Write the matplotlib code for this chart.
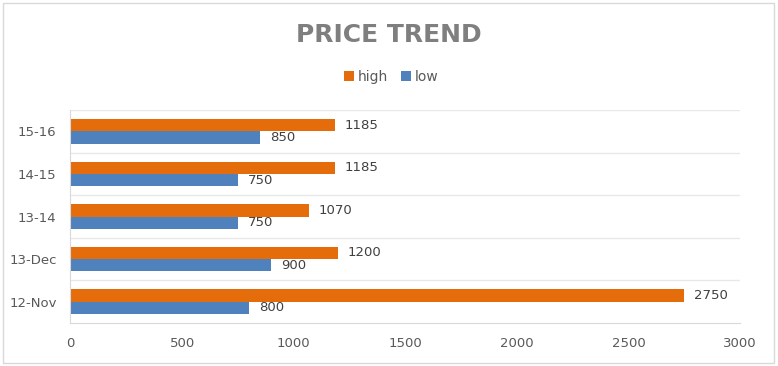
import matplotlib.pyplot as plt
import numpy as np
from matplotlib.patches import Rectangle

# Data
categories = ["12-Nov", "13-Dec", "13-14", "14-15", "15-16"]
high = [2750, 1200, 1070, 1185, 1185]
low = [800, 900, 750, 750, 850]
x_ticks = [0, 500, 1000, 1500, 2000, 2500, 3000]

ORANGE = "#E46C0A"
BLUE = "#4F81BD"
TEXT = "#595959"
GRID = "#E8E8E8"

fig = plt.figure(figsize=(7.78, 3.66), dpi=100)
ax = fig.add_axes([0.0906, 0.1175, 0.8605, 0.5815])

y = np.arange(len(categories))
h = 0.29
bars_high = ax.barh(y + h / 2, high, height=h, color=ORANGE, label="high")
bars_low = ax.barh(y - h / 2, low, height=h, color=BLUE, label="low")

# Data labels
for bars in (bars_high, bars_low):
    for b in bars:
        ax.annotate(f"{int(b.get_width())}",
                    xy=(b.get_width(), b.get_y() + b.get_height() / 2),
                    xytext=(7, 0), textcoords="offset points",
                    va="center", ha="left", fontsize=9.5, color="#404040")

ax.set_xlim(0, 3000)
ax.set_ylim(-0.5, len(categories) - 0.5)
ax.set_xticks(x_ticks)
ax.set_yticks(y)
ax.set_yticklabels(categories)
ax.tick_params(axis="both", length=0, labelsize=9.5, labelcolor=TEXT)
ax.tick_params(axis="y", pad=10)
ax.tick_params(axis="x", pad=10)

# gridlines between categories
for g in np.arange(-0.5, len(categories), 1.0)[1:]:
    ax.axhline(g, color=GRID, linewidth=1, zorder=0)

for s in ("top", "right"):
    ax.spines[s].set_visible(False)
ax.spines["left"].set_color("#D9D9D9")
ax.spines["bottom"].set_color("#D9D9D9")

fig.text(0.5, 0.905, "PRICE TREND", ha="center", va="center",
         fontsize=18, fontweight="bold", color="#7F7F7F")

fig.legend(handles=[bars_high, bars_low], labels=["high", "low"],
           loc="center", bbox_to_anchor=(0.503, 0.79), ncol=2, frameon=False,
           fontsize=10, labelcolor=TEXT, handlelength=0.7, handleheight=0.7,
           handletextpad=0.3, columnspacing=0.9)

# chart border
fig.patches.append(Rectangle((0.004, 0.008), 0.991, 0.985, transform=fig.transFigure,
                             fill=False, edgecolor="#D9D9D9", linewidth=1))

fig.savefig("out.png", dpi=100)
